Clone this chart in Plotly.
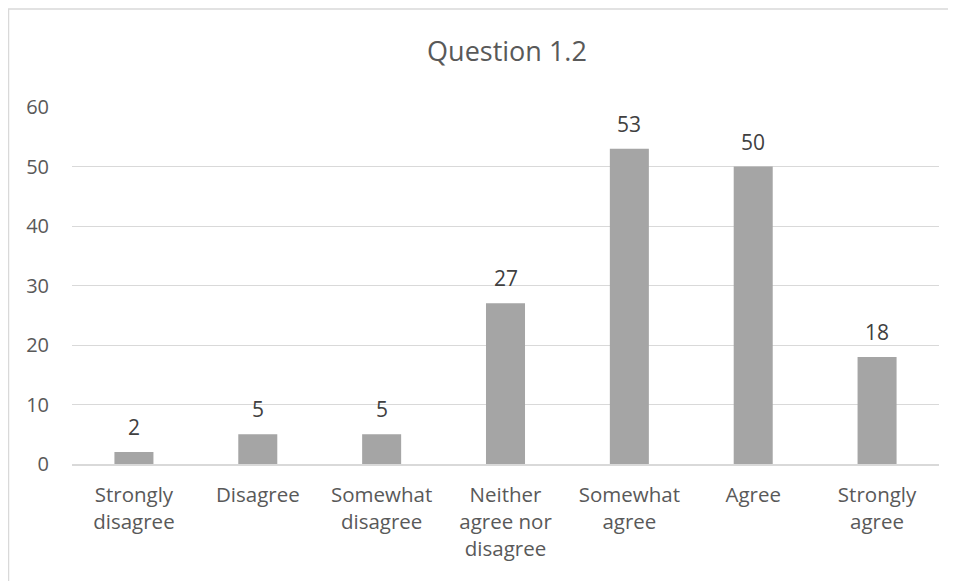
import plotly.graph_objects as go

categories = ["Strongly<br>disagree", "Disagree", "Somewhat<br>disagree",
              "Neither<br>agree nor<br>disagree", "Somewhat<br>agree", "Agree",
              "Strongly<br>agree"]
values = [2, 5, 5, 27, 53, 50, 18]
y_ticks = [0, 10, 20, 30, 40, 50, 60]

W, H = 956, 581
L, R, T, B = 64, 25, 99, 125
pw = W - L - R
ph = H - T - B

fig = go.Figure(go.Bar(
    x=categories, y=values,
    marker=dict(color="#a5a5a5", line=dict(width=0)),
))

annotations = [
    dict(x=c, y=v, text=str(v), xref="x", yref="y", showarrow=False,
         yanchor="middle", yshift=25,
         font=dict(size=21, color="#404040", family="Open Sans"))
    for c, v in zip(categories, values)
]

fig.update_layout(
    width=W, height=H,
    margin=dict(l=L, r=R, t=T, b=B),
    paper_bgcolor="white", plot_bgcolor="white",
    bargap=0.685,
    showlegend=False,
    font=dict(family="Open Sans", color="#595959", size=20),
    title=dict(text="Question 1.2", x=499 / W, xanchor="center",
               y=1 - 44 / H, yanchor="middle",
               font=dict(size=27, color="#595959", family="Open Sans")),
    xaxis=dict(showgrid=False, showline=True, linecolor="#d9d9d9", linewidth=1.5,
               tickfont=dict(size=20.5, color="#595959"), ticks="",
               ticklabelstandoff=12),
    yaxis=dict(range=[0, 60], tickvals=y_ticks, showgrid=True,
               gridcolor="#d9d9d9", gridwidth=1.2, zeroline=False,
               showline=False, ticks="", ticklabelstandoff=22,
               tickfont=dict(size=20, color="#595959")),
    annotations=annotations,
    shapes=[dict(type="rect", xref="paper", yref="paper",
                 x0=(0.5 - L) / pw, x1=(W + 20 - L) / pw,
                 y0=-(B + 20) / ph, y1=(H - B - 1) / ph,
                 line=dict(color="#d9d9d9", width=1.5), layer="below")],
)

fig.write_html("out.html")
